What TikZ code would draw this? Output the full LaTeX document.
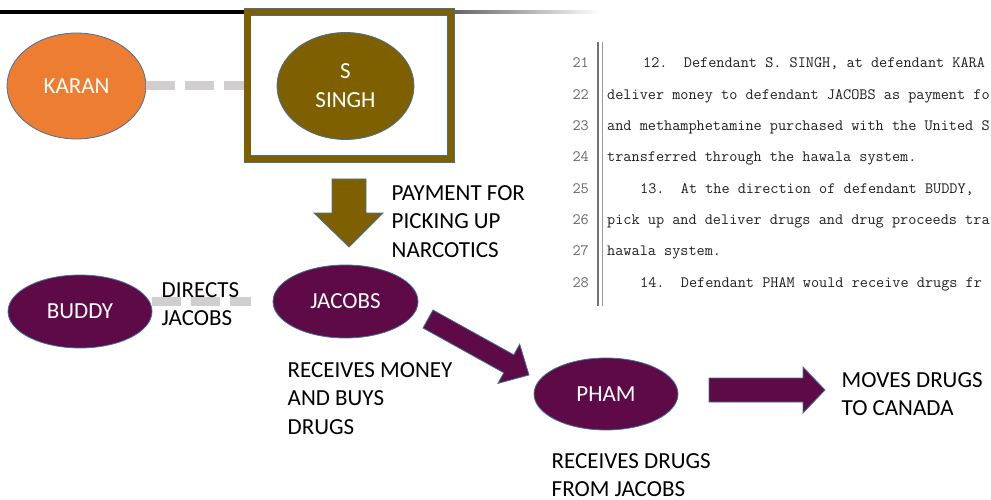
\documentclass[tikz,border=0pt]{standalone}
\usepackage{fontspec}
\setmainfont{Carlito}
\usetikzlibrary{shapes.geometric}

\definecolor{olivebrown}{HTML}{7F6000}
\definecolor{plum}{HTML}{5E0A46}
\definecolor{karanorange}{HTML}{ED7D31}
\definecolor{linkgray}{HTML}{D0CECE}
\definecolor{edgeblue}{HTML}{41719C}

\begin{document}
\begin{tikzpicture}[x=1pt,y=-1pt,
  person/.style={ellipse, draw=edgeblue, line width=0.8pt, inner sep=0pt,
    text=white, align=center, font=\fontsize{23}{29}\selectfont},
  note/.style={anchor=north west, inner sep=0pt, align=left,
    font=\fontsize{23}{28.5}\selectfont},
  link/.style={draw=linkgray, line width=9pt, dash pattern=on 29pt off 10pt},
  blockarrow/.style={draw=edgeblue, line width=0.8pt, line join=miter},
  docline/.style={anchor=base west, inner sep=0pt, text=black!88,
    font=\ttfamily\fontsize{15.8}{18}\selectfont\frenchspacing},
  docnum/.style={anchor=base east, inner sep=0pt, text=black!60,
    font=\ttfamily\fontsize{15.8}{18}\selectfont},
]
\useasboundingbox (0,0) rectangle (991,500);

% rule along the top edge
\fill[black] (0,10.3) rectangle (250,13.7);
\shade[left color=black!62, right color=white] (450,10.3) rectangle (600,13.7);

% framed S SINGH
\node[draw=edgeblue, line width=0.7pt, double=olivebrown, double distance=6.4pt,
      fill=white, minimum width=203.5pt, minimum height=147pt,
      inner sep=0pt, outer sep=0pt] (frame) at (349.25,85.5) {};
\node[person, fill=olivebrown, minimum width=137pt, minimum height=107pt]
      (singh) at (345.5,86) {S\\SINGH};

% KARAN
\node[person, fill=karanorange, minimum width=139pt, minimum height=106pt]
      (karan) at (76.5,86) {KARAN};
\draw[link, shorten >=4pt] (karan.east) -- (karan.east -| frame.west);

% payment arrow
\filldraw[blockarrow, fill=olivebrown]
  (332,179) -- (366,179) -- (366,213) -- (383,213) -- (349,247)
  -- (314,213) -- (332,213) -- cycle;
\node[note] (payment) at (391.5,185) {PAYMENT FOR\\PICKING UP\\NARCOTICS};

% BUDDY and JACOBS
\node[person, fill=plum, minimum width=144pt, minimum height=73pt]
      (buddy) at (80,311.5) {BUDDY};
\node[person, fill=plum, minimum width=145pt, minimum height=73pt]
      (jacobs) at (345.5,301.5) {JACOBS};
\draw[link, shorten >=22pt] (buddy.east |- jacobs.west) -- (jacobs.west);
\node[note] (directs) at (161.5,282) {DIRECTS\\JACOBS};
\node[note] (buys) at (287.5,362) {RECEIVES MONEY\\AND BUYS\\DRUGS};

% JACOBS to PHAM
\filldraw[blockarrow, fill=plum]
  (433,310) -- (513.8,354.8) -- (519.7,344.2) -- (529,375)
  -- (497.9,383.4) -- (503.8,372.8) -- (423,328) -- cycle;

% PHAM
\node[person, fill=plum, minimum width=144pt, minimum height=72pt]
      (pham) at (606,394) {PHAM};
\node[note] (receives) at (551.5,453) {RECEIVES DRUGS\\FROM JACOBS};

% onward to Canada
\filldraw[blockarrow, fill=plum]
  (709,378) -- (803,378) -- (803,367) -- (825,390) -- (803,413)
  -- (803,402) -- (709,402) -- cycle;
\node[note] (canada) at (841.5,372) {MOVES DRUGS\\TO CANADA};

% excerpt of the indictment
\begin{scope}
\clip (520,30) rectangle (991,320);
\draw[black!55, line width=1.6pt] (598,42) -- (598,306);
\draw[black!40, line width=0.9pt] (602,42) -- (602,306);
\foreach \n [count=\i from 0] in {21,...,28}
  \node[docnum] (num\n) at (589,{68+31.3*\i}) {\n};
\node[docline] (l21) at (643,68)    {12.\ \ Defendant S. SINGH, at defendant KARA};
\node[docline] (l22) at (607,99.3)  {deliver money to defendant JACOBS as payment fo};
\node[docline] (l23) at (607,130.6) {and methamphetamine purchased with the United S};
\node[docline] (l24) at (607,161.9) {transferred through the hawala system.};
\node[docline] (l25) at (640,193.2) {13.\ \ At the direction of defendant BUDDY,};
\node[docline] (l26) at (607,224.5) {pick up and deliver drugs and drug proceeds tra};
\node[docline] (l27) at (607,255.8) {hawala system.};
\node[docline] (l28) at (640,287.1) {14.\ \ Defendant PHAM would receive drugs fr};
\end{scope}
\end{tikzpicture}
\end{document}
